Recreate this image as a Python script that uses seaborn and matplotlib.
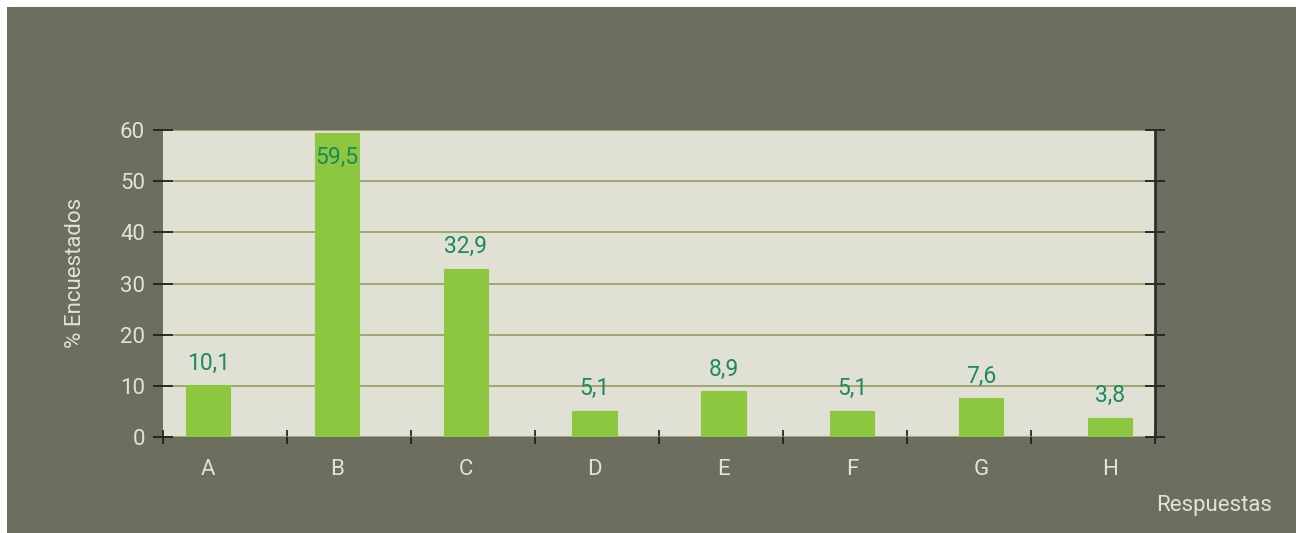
import matplotlib
matplotlib.use("Agg")
import matplotlib.pyplot as plt
from matplotlib.patches import Rectangle
import seaborn as sns
import pandas as pd

# Survey answers and share of respondents (%)
categories = ["A", "B", "C", "D", "E", "F", "G", "H"]
values = [10.1, 59.5, 32.9, 5.1, 8.9, 5.1, 7.6, 3.8]
value_labels = ["10,1", "59,5", "32,9", "5,1", "8,9", "5,1", "7,6", "3,8"]
y_ticks = [0, 10, 20, 30, 40, 50, 60]

PANEL = "#6c6e60"
PLOT_BG = "#e0e1d4"
GRID = "#9a9c5c"
BAR = "#8dc63f"
LABEL = "#1d8a62"
TEXT = "#e2e2d6"

plt.rcParams["font.family"] = ["Roboto", "DejaVu Sans"]

df = pd.DataFrame({"respuesta": categories, "pct": values})

fig = plt.figure(figsize=(12.96, 5.33), dpi=100, facecolor="white")
fig.patches.append(Rectangle((7 / 1296, 0), 1289 / 1296, 526 / 533,
                             transform=fig.transFigure, facecolor=PANEL,
                             edgecolor="none", zorder=-10))

ax = fig.add_axes([163 / 1296, 96 / 533, 992 / 1296, 307 / 533])
ax.set_facecolor(PLOT_BG)

sns.barplot(data=df, x="respuesta", y="pct", color=BAR, width=0.345,
            saturation=1, ax=ax, zorder=3)
for p in ax.patches:
    p.set_edgecolor(BAR)
    p.set_linewidth(0.8)
    p.set_joinstyle("round")

ax.set_xlim(-0.35, 7.35)
ax.set_ylim(0, 60)
ax.set_yticks(y_ticks)
ax.yaxis.grid(True, color=GRID, linewidth=1.2, zorder=1)
ax.xaxis.grid(False)
ax.set_axisbelow(True)

# Value labels: above each bar, inside the bar when it reaches the top
for i, (v, lab) in enumerate(zip(values, value_labels)):
    if v > 55:
        ax.annotate(lab, (i, v), xytext=(0, -25), textcoords="offset pixels",
                    ha="center", va="center", color=LABEL, fontsize=16.5, zorder=5)
    else:
        ax.annotate(lab, (i, v), xytext=(0, 22), textcoords="offset pixels",
                    ha="center", va="center", color=LABEL, fontsize=16.5, zorder=5)

for side in ["left", "top", "bottom"]:
    ax.spines[side].set_visible(False)
ax.spines["right"].set_color("#2e2e2a")
ax.spines["right"].set_linewidth(2)

# y ticks on both sides, crossing the frame
ax.tick_params(axis="y", which="major", direction="inout", length=14, width=1.2,
               color="#1a1a1a", labelcolor=TEXT, labelsize=16, pad=6,
               left=True, right=True, labelright=False)

# x: labels under bars, tick marks at equal divisions of the frame
ax.tick_params(axis="x", which="major", length=0, labelcolor=TEXT,
               labelsize=16, pad=16)
x0, x1 = ax.get_xlim()
ax.set_xticks([x0 + k * (x1 - x0) / 8 for k in range(9)], minor=True)
ax.tick_params(axis="x", which="minor", direction="inout", length=10, width=1.2,
               color="#1a1a1a")

ax.set_xlabel("")
ax.set_ylabel("% Encuestados", color=TEXT, fontsize=16)
ax.yaxis.set_label_coords(-0.078, 0.536)
fig.text(1214 / 1296, 1 - 505 / 533, "Respuestas", color=TEXT, fontsize=16,
         ha="center", va="center")

fig.savefig("out.png", dpi=100, facecolor=fig.get_facecolor())
